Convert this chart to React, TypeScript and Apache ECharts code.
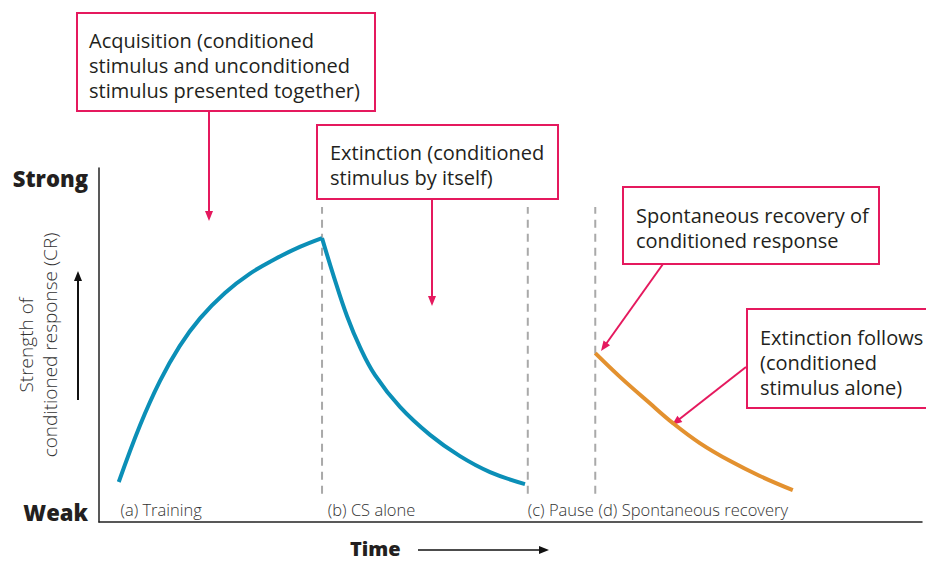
import React, { useEffect, useRef } from "react";
import * as echarts from "echarts";

// ---- Data (time units 0-100, strength 0-100) ----
const trainingX = [2.4, 5.0, 7.4, 9.8, 12.3, 15.3, 18.3, 21.4, 24.4, 27.1];
const trainingY = [11.3, 27.4, 39.8, 49.7, 57.6, 64.7, 70.1, 74.3, 77.7, 80.2];

const extinctionX = [27.1, 28.55, 30.13, 31.71, 33.54, 36.57, 40.22, 43.86, 47.51, 51.76];
const extinctionY = [80.2, 69.2, 58.2, 49.4, 41.5, 32.5, 24.6, 18.6, 14.1, 10.7];

const recoveryX = [60.3, 63.3, 66.9, 69.7, 73.0, 76.7, 80.3, 84.3];
const recoveryY = [47.7, 41.0, 33.6, 28.0, 22.3, 17.2, 13.0, 9.0];

const phaseBoundaries = [27.1, 52.1, 60.3];
const boundarySpan = [8, 89];

const phaseLabelX = [2.6, 27.8, 52.1, 60.7];
const phaseLabels = ["(a) Training", "(b) CS alone", "(c) Pause", "(d) Spontaneous recovery"];

const strengthTickValues = [2.8, 97.2];
const strengthTickLabels = ["Weak", "Strong"];

const yAxisTitle = ["Strength of", "conditioned response (CR)"];
const xAxisTitle = "Time";

const FONT = "'Open Sans', Lato, sans-serif";
const PINK = "#e5195e";
const TEXT = "#231f20";

const zip = (xs: number[], ys: number[]) => xs.map((x, i) => [x, ys[i]]);

function arrowHead(x1: number, y1: number, x2: number, y2: number, color: string, len = 10, half = 4) {
  const dx = x2 - x1;
  const dy = y2 - y1;
  const L = Math.sqrt(dx * dx + dy * dy);
  const ux = dx / L;
  const uy = dy / L;
  const bx = x2 - ux * len;
  const by = y2 - uy * len;
  const px = -uy * half;
  const py = ux * half;
  return {
    type: "polygon",
    shape: { points: [[x2, y2], [bx + px, by + py], [bx - px, by - py]] },
    style: { fill: color },
    silent: true,
  };
}

function arrow(x1: number, y1: number, x2: number, y2: number, color: string, width = 2) {
  const dx = x2 - x1;
  const dy = y2 - y1;
  const L = Math.sqrt(dx * dx + dy * dy);
  const ex = x2 - (dx / L) * 8;
  const ey = y2 - (dy / L) * 8;
  return [
    { type: "line", shape: { x1, y1, x2: ex, y2: ey }, style: { stroke: color, lineWidth: width }, silent: true },
    arrowHead(x1, y1, x2, y2, color),
  ];
}

function box(x: number, y: number, w: number, h: number, lines: string[], tx: number, ty: number) {
  return [
    { type: "rect", shape: { x, y, width: w, height: h }, style: { fill: "#fff", stroke: PINK, lineWidth: 2 }, z: 10 },
    {
      type: "text",
      x: tx,
      y: ty,
      z: 11,
      style: { text: lines.join("\n"), font: `20px ${FONT}`, fill: TEXT, lineHeight: 25, textVerticalAlign: "top" },
    },
  ];
}

export default function App() {
  const ref = useRef<HTMLDivElement>(null);
  useEffect(() => {
    if (!ref.current) return;
    const chart = echarts.init(ref.current, null, { renderer: "svg" });
    const boundarySeries = phaseBoundaries.map((bx) => ({
      type: "line",
      data: [[bx, boundarySpan[0]], [bx, boundarySpan[1]]],
      showSymbol: false,
      lineStyle: { color: "#a9a9a9", width: 2, type: [8, 6] },
      z: 1,
    }));
    const option: any = {
      animation: false,
      grid: { left: 99, right: 4, top: 168, bottom: 40, containLabel: false, outerBoundsMode: "none" },
      xAxis: {
        type: "value",
        min: 0,
        max: 100,
        axisLine: { show: true, lineStyle: { color: "#222", width: 1.5 } },
        axisTick: { show: false },
        splitLine: { show: false },
        axisLabel: {
          inside: true,
          customValues: phaseLabelX,
          margin: 13,
          align: "left",
          verticalAlign: "middle",
          fontFamily: FONT,
          fontSize: 16.5,
          fontWeight: 300,
          color: "#333",
          formatter: (v: number) => {
            let best = 0;
            phaseLabelX.forEach((p, i) => {
              if (Math.abs(p - v) < Math.abs(phaseLabelX[best] - v)) best = i;
            });
            return phaseLabels[best];
          },
        },
      },
      yAxis: {
        type: "value",
        min: 0,
        max: 100,
        axisLine: { show: true, lineStyle: { color: "#222", width: 1.5 } },
        axisTick: { show: false },
        splitLine: { show: false },
        axisLabel: {
          customValues: strengthTickValues,
          margin: 11,
          fontFamily: FONT,
          fontSize: 22,
          fontWeight: 800,
          color: TEXT,
          formatter: (v: number) => (v < 50 ? strengthTickLabels[0] : strengthTickLabels[1]),
        },
      },
      series: [
        ...boundarySeries,
        {
          type: "line",
          data: zip(trainingX, trainingY),
          smooth: 0.4,
          showSymbol: false,
          lineStyle: { color: "#0b8fb7", width: 4 },
          z: 3,
        },
        {
          type: "line",
          data: zip(extinctionX, extinctionY),
          smooth: 0.4,
          showSymbol: false,
          lineStyle: { color: "#0b8fb7", width: 4 },
          z: 3,
        },
        {
          type: "line",
          data: zip(recoveryX, recoveryY),
          smooth: 0.4,
          showSymbol: false,
          lineStyle: { color: "#e3912f", width: 4 },
          z: 3,
        },
      ],
      graphic: [
        ...box(77, 13, 298, 98, ["Acquisition (conditioned", "stimulus and unconditioned", "stimulus presented together)"], 89, 28),
        ...arrow(209, 111, 209, 221, PINK),
        ...box(317, 125, 241, 74, ["Extinction (conditioned", "stimulus by itself)"], 330, 140),
        ...arrow(432, 199, 432, 306, PINK),
        ...box(623, 187, 256, 77, ["Spontaneous recovery of", "conditioned response"], 636, 203),
        ...arrow(663, 264, 601, 351, PINK),
        ...box(747, 309, 190, 99, ["Extinction follows", "(conditioned", "stimulus alone)"], 760, 325),
        ...arrow(746, 367, 672, 425, PINK),
        ...arrow(78, 400, 78, 271, "#111"),
        {
          type: "text",
          x: 38,
          y: 345,
          rotation: Math.PI / 2,
          style: {
            text: yAxisTitle.join("\n"),
            font: `300 19px ${FONT}`,
            fill: "#333",
            lineHeight: 24,
            textAlign: "center",
            textVerticalAlign: "middle",
          },
        },
        {
          type: "text",
          x: 350,
          y: 548,
          style: { text: xAxisTitle, font: `800 20px ${FONT}`, fill: TEXT, lineHeight: 20, textVerticalAlign: "middle" },
        },
        ...arrow(418, 550, 549, 550, "#111", 1.5),
      ],
    };
    chart.setOption(option);
    return () => chart.dispose();
  }, []);
  return <div ref={ref} style={{ position: "fixed", left: 0, top: 0, width: 926, height: 562, background: "#fff" }} />;
}
